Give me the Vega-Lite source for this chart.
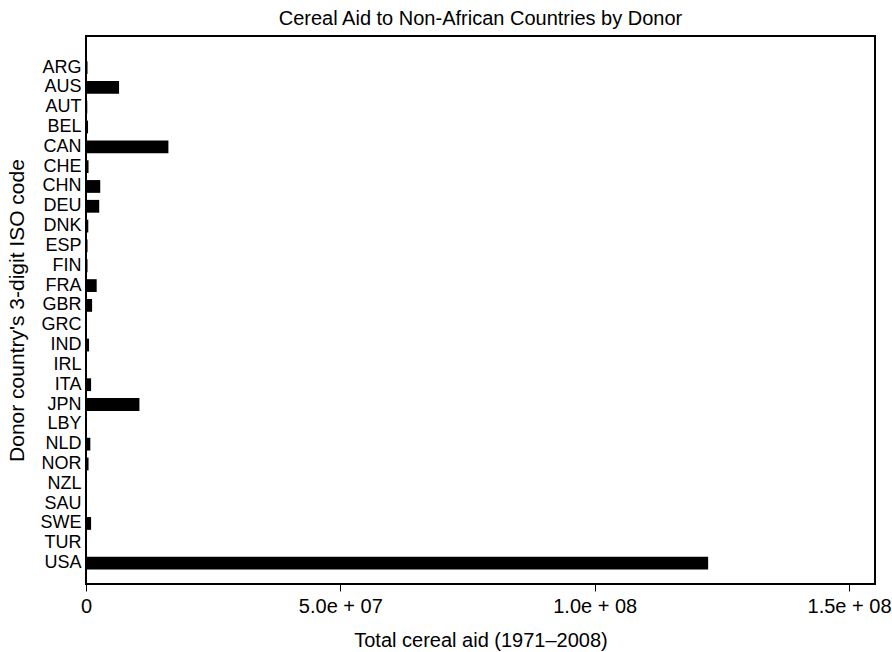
{
  "$schema": "https://vega.github.io/schema/vega-lite/v6.json",
  "width": 789,
  "height": 548,
  "autosize": {"type": "none"},
  "padding": {"left": 86, "top": 36, "right": 17, "bottom": 68},
  "background": "white",
  "title": {
    "text": "Cereal Aid to Non-African Countries by Donor",
    "font": "Liberation Sans",
    "fontSize": 20,
    "fontWeight": "normal",
    "color": "black",
    "anchor": "middle",
    "offset": 7
  },
  "config": {
    "view": {"stroke": "black", "strokeWidth": 2},
    "font": "Liberation Sans"
  },
  "data": {
    "values": [
      {"donor": "ARG", "aid": 300000},
      {"donor": "AUS", "aid": 6500000},
      {"donor": "AUT", "aid": 250000},
      {"donor": "BEL", "aid": 400000},
      {"donor": "CAN", "aid": 16200000},
      {"donor": "CHE", "aid": 500000},
      {"donor": "CHN", "aid": 2800000},
      {"donor": "DEU", "aid": 2600000},
      {"donor": "DNK", "aid": 450000},
      {"donor": "ESP", "aid": 300000},
      {"donor": "FIN", "aid": 300000},
      {"donor": "FRA", "aid": 2100000},
      {"donor": "GBR", "aid": 1200000},
      {"donor": "GRC", "aid": 100000},
      {"donor": "IND", "aid": 600000},
      {"donor": "IRL", "aid": 100000},
      {"donor": "ITA", "aid": 1000000},
      {"donor": "JPN", "aid": 10500000},
      {"donor": "LBY", "aid": 100000},
      {"donor": "NLD", "aid": 850000},
      {"donor": "NOR", "aid": 500000},
      {"donor": "NZL", "aid": 100000},
      {"donor": "SAU", "aid": 150000},
      {"donor": "SWE", "aid": 1000000},
      {"donor": "TUR", "aid": 100000},
      {"donor": "USA", "aid": 122300000}
    ]
  },
  "mark": {"type": "bar", "color": "black"},
  "encoding": {
    "y": {
      "field": "donor",
      "type": "nominal",
      "sort": null,
      "scale": {"paddingInner": 0.355, "paddingOuter": 1.91, "align": 0.634},
      "axis": {
        "title": "Donor country's 3-digit ISO code",
        "titleFont": "Liberation Sans",
        "titleFontSize": 21,
        "titleFontWeight": "normal",
        "titleColor": "black",
        "titlePadding": 12,
        "labelFont": "Liberation Sans",
        "labelFontSize": 18,
        "labelColor": "black",
        "labelPadding": 5,
        "ticks": false,
        "domain": false
      }
    },
    "x": {
      "field": "aid",
      "type": "quantitative",
      "scale": {"domain": [0, 155100000], "nice": false, "zero": true},
      "axis": {
        "title": "Total cereal aid (1971–2008)",
        "titleFont": "Liberation Sans",
        "titleFontSize": 20,
        "titleFontWeight": "normal",
        "titleColor": "black",
        "titlePadding": 14,
        "values": [0, 50000000, 100000000, 150000000],
        "labelExpr": "datum.value == 0 ? '0' : replace(format(datum.value, '.1e'), 'e+', 'e + 0')",
        "labelFont": "Liberation Sans",
        "labelFontSize": 20,
        "labelColor": "black",
        "labelPadding": 5,
        "labelFlush": false,
        "tickSize": 7,
        "tickColor": "black",
        "grid": false,
        "domain": false
      }
    }
  }
}
